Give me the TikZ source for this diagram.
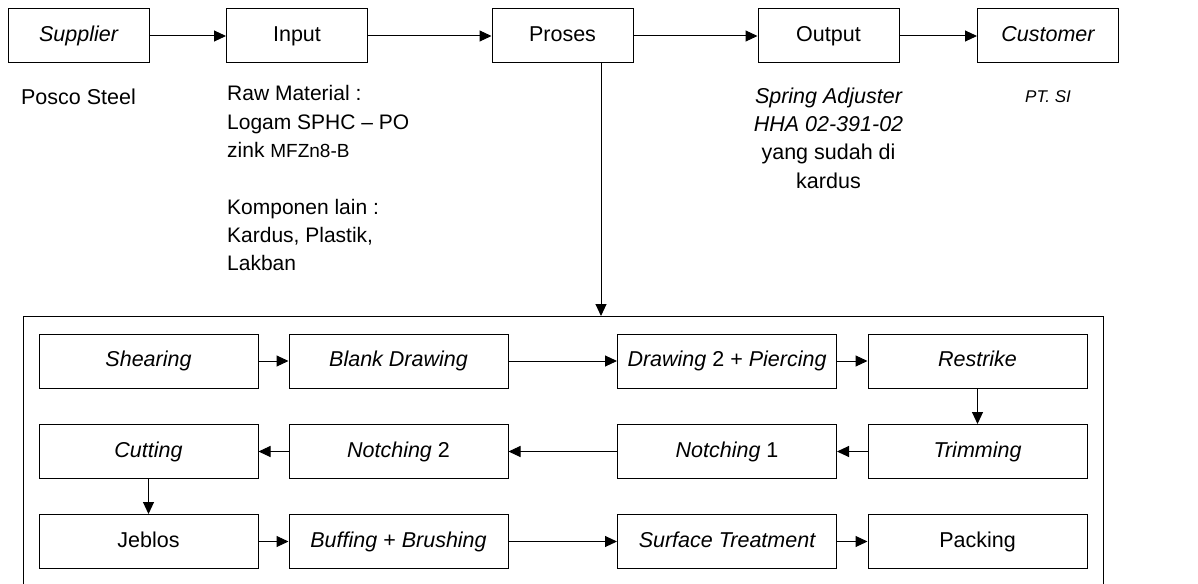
\documentclass[tikz,border=0pt]{standalone}
\usepackage{fontspec}
\setmainfont{Liberation Sans}
\usetikzlibrary{arrows.meta,calc}

\begin{document}
\begin{tikzpicture}[x=1pt,y=-1pt,
  txt/.style={font=\fontsize{21.5}{28.3}\selectfont},
  boxed/.style={draw, line width=1pt, minimum height=54pt, inner sep=0pt, text height=15.5pt, text depth=4.5pt, txt},
  topbox/.style={boxed, minimum width=141pt},
  stepbox/.style={boxed, minimum width=219pt},
  note/.style={inner sep=0pt, txt},
  flow/.style={line width=1pt, -{Triangle[length=12pt,width=11pt]}},
]
\useasboundingbox (0,0) rectangle (1198,583);
\clip (0,0) rectangle (1198,583);

% top row: supplier -> customer chain
\node[topbox] (supplier) at (78.5,36)  {\itshape Supplier};
\node[topbox] (input)    at (297,36)   {Input};
\node[topbox] (proses)   at (562.5,36) {Proses};
\node[topbox] (output)   at (828.5,36) {Output};
\node[topbox] (customer) at (1048,36)  {\itshape Customer};

\foreach \a/\b in {supplier/input, input/proses, proses/output, output/customer}
  \draw[flow] (\a.east) -- (\b.west);

% descriptions under the top boxes
\node[note] (possco) at (78.5,97) {Posco Steel};
\node[note, align=left, anchor=north west, font=\fontsize{21}{28.3}\selectfont] (inputtxt) at (227,85.5)
  {Raw Material :\\ Logam SPHC -- PO\\ zink {\fontsize{19}{28.3}\selectfont MFZn8-B}\\[28.3pt]
   Komponen lain :\\ Kardus, Plastik,\\ Lakban};
\node[note, align=center, anchor=north] (outputtxt) at (828.5,87.5)
  {\fontsize{21.5}{29}\selectfont\itshape Spring Adjuster\\ \itshape HHA 02-391-02\\ yang sudah di\\ kardus};
\node[note, font=\fontsize{17}{20}\selectfont\itshape] (custtxt) at (1048,97) {PT. SI};

% process area
\node[draw, line width=1pt, anchor=north west, minimum width=1080pt, minimum height=320pt, inner sep=0pt] (area) at (23,316) {};
\coordinate (drop) at ($(proses.south)+(38.5,0)$);
\draw[flow] (drop) -- (drop |- area.north);

% process steps
\node[stepbox] (shearing) at (148.5,361)   {\itshape Shearing};
\node[stepbox] (blank)    at (398.5,361)   {\itshape Blank Drawing};
\node[stepbox] (drawing)  at (727,361)     {\itshape Drawing\upshape\ 2 + \itshape Piercing};
\node[stepbox] (restrike) at (977.5,361)   {\itshape Restrike};
\node[stepbox] (trimming) at (977.5,451.5) {\itshape Trimming};
\node[stepbox] (notch1)   at (727,451.5)   {\itshape Notching\upshape\ 1};
\node[stepbox] (notch2)   at (398.5,451.5) {\itshape Notching\upshape\ 2};
\node[stepbox] (cutting)  at (148.5,451.5) {\itshape Cutting};
\node[stepbox] (jeblos)   at (148.5,541.5) {Jeblos};
\node[stepbox] (buffing)  at (398.5,541.5) {\itshape Buffing\upshape\ + \itshape Brushing};
\node[stepbox] (surface)  at (727,541.5)   {\itshape Surface Treatment};
\node[stepbox] (packing)  at (977.5,541.5) {Packing};

\draw[flow] (shearing) -- (blank);
\draw[flow] (blank) -- (drawing);
\draw[flow] (drawing) -- (restrike);
\draw[flow] (restrike) -- (trimming);
\draw[flow] (trimming) -- (notch1);
\draw[flow] (notch1) -- (notch2);
\draw[flow] (notch2) -- (cutting);
\draw[flow] (cutting) -- (jeblos);
\draw[flow] (jeblos) -- (buffing);
\draw[flow] (buffing) -- (surface);
\draw[flow] (surface) -- (packing);
\end{tikzpicture}
\end{document}
